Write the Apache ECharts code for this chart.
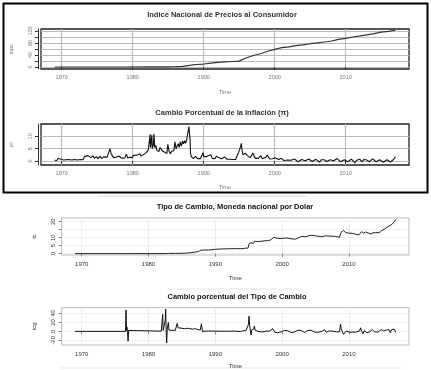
<!DOCTYPE html>
<html>
<head>
<meta charset="utf-8">
<script src="https://cdn.jsdelivr.net/npm/echarts@6/dist/echarts.min.js"></script>
<style>
html, body { margin: 0; padding: 0; background: #fff; }
#main { width: 431px; height: 370px; }
</style>
</head>
<body>
<div id="main"></div>
<script>
// ticks
const decades = [1970, 1980, 1990, 2000, 2010];
const inpcTicks = [0, 20, 40, 60, 80, 100, 120];
const inpcLabels = [0, 40, 80, 120];
const piTicks = [0, 5, 10];
const tcTicks = [0, 5, 10, 15, 20];
const tcLabels = [0, 5, 10, 20];
const tcgTicks = [-20, 0, 20, 40];

// INPC (indice)
const inpc = [[1969.0,0.015],[1973.0,0.02],[1976.0,0.03],[1979.0,0.055],[1982.0,0.11],[1983.0,0.22],[1984.0,0.39],
  [1985.0,0.63],[1986.0,1.02],[1987.0,2.1],[1988.0,5.45],[1988.5,7.4],[1989.0,8.3],[1990.0,9.9],[1991.0,12.8],
  [1992.0,15.2],[1993.0,17.0],[1994.0,18.4],[1995.0,19.7],[1995.5,25.5],[1996.0,30.0],[1997.0,38.3],[1998.0,44.3],
  [1999.0,52.5],[2000.0,59.0],[2001.0,64.3],[2002.0,67.1],[2003.0,71.0],[2004.0,73.8],[2005.0,77.6],[2006.0,80.2],
  [2007.0,83.4],[2008.0,86.6],[2009.0,92.2],[2010.0,95.5],[2011.0,100.0],[2012.0,103.6],[2013.0,107.3],
  [2014.0,111.5],[2015.0,116.1],[2016.0,118.5],[2017.0,122.5]];

// inflacion mensual (%)
const pi = [[1969.0,0.3],[1969.3,0.2],[1969.5,1.1],[1969.6,0.3],[1970.0,0.6],[1970.3,0.4],[1970.6,0.5],[1971.0,0.6],
  [1971.4,0.4],[1971.8,0.6],[1972.2,0.4],[1972.6,0.6],[1973.0,0.5],[1973.2,1.8],[1973.4,1.0],[1973.7,2.2],[1973.9,2.8],
  [1974.1,1.4],[1974.4,2.1],[1974.6,1.1],[1974.9,1.8],[1975.1,0.9],[1975.4,2.0],[1975.6,1.0],[1975.9,1.7],[1976.1,0.9],
  [1976.4,1.6],[1976.6,1.0],[1976.8,5.0],[1976.95,3.0],[1977.1,2.2],[1977.3,1.4],[1977.5,1.3],[1977.7,1.6],[1977.9,1.2],
  [1978.1,2.0],[1978.4,1.2],[1978.6,1.4],[1978.9,1.3],[1979.1,2.8],[1979.3,1.2],[1979.6,1.5],[1979.9,1.4],[1980.1,2.3],
  [1980.3,1.9],[1980.6,2.4],[1980.8,1.7],[1981.0,2.9],[1981.2,2.0],[1981.5,2.6],[1981.7,2.2],[1981.9,3.4],[1982.1,3.0],
  [1982.2,4.5],[1982.35,5.0],[1982.45,10.8],[1982.5,5.5],[1982.6,6.0],[1982.7,10.5],[1982.75,5.0],[1982.9,6.5],
  [1983.0,10.9],[1983.1,5.5],[1983.25,6.4],[1983.4,4.3],[1983.55,5.0],[1983.7,3.9],[1983.85,5.5],[1984.0,6.2],
  [1984.15,4.2],[1984.3,4.5],[1984.5,3.6],[1984.65,3.9],[1984.8,3.0],[1984.95,6.8],[1985.1,4.2],[1985.3,3.0],
  [1985.5,4.0],[1985.65,3.2],[1985.8,4.2],[1985.95,7.8],[1986.1,5.0],[1986.25,5.5],[1986.4,7.0],[1986.55,5.5],
  [1986.7,7.8],[1986.85,6.0],[1987.0,8.0],[1987.15,7.0],[1987.3,8.2],[1987.45,7.2],[1987.6,8.6],[1987.75,7.8],
  [1987.88,8.3],[1987.92,14.0],[1988.0,14.3],[1988.08,8.3],[1988.15,3.1],[1988.25,1.8],[1988.4,1.2],[1988.55,1.0],
  [1988.7,0.6],[1988.85,1.9],[1989.0,1.4],[1989.15,1.0],[1989.35,1.3],[1989.55,1.0],[1989.75,1.5],[1989.9,3.4],
  [1990.0,1.8],[1990.2,1.6],[1990.4,1.8],[1990.55,1.3],[1990.7,2.2],[1990.85,1.8],[1991.0,2.6],[1991.2,1.1],
  [1991.4,1.2],[1991.6,1.0],[1991.8,2.0],[1991.95,1.6],[1992.1,1.4],[1992.3,1.0],[1992.5,0.9],[1992.7,0.9],
  [1992.95,1.6],[1993.1,0.9],[1993.3,0.7],[1993.5,0.6],[1993.7,0.7],[1993.9,0.8],[1994.1,0.6],[1994.3,0.5],
  [1994.5,0.6],[1994.7,0.7],[1994.95,3.8],[1995.1,4.2],[1995.2,5.9],[1995.3,7.2],[1995.4,4.2],[1995.55,2.5],
  [1995.7,2.0],[1995.85,3.2],[1996.0,3.6],[1996.15,2.2],[1996.35,1.6],[1996.55,1.4],[1996.75,1.2],[1996.95,3.2],
  [1997.1,2.0],[1997.3,1.1],[1997.5,0.9],[1997.7,1.1],[1997.95,1.4],[1998.05,2.2],[1998.25,0.9],[1998.5,1.0],
  [1998.7,1.4],[1998.95,2.4],[1999.05,2.5],[1999.3,0.8],[1999.5,0.7],[1999.7,0.9],[1999.95,1.0],[2000.05,1.3],
  [2000.3,0.5],[2000.55,0.6],[2000.8,0.7],[2000.95,1.1],[2001.1,0.6],[2001.3,0.2],[2001.55,0.6],[2001.8,0.4],
  [2002.0,0.9],[2002.3,0.3],[2002.55,0.4],[2002.8,0.8],[2003.0,0.4],[2003.3,-0.3],[2003.55,0.3],[2003.8,0.6],
  [2004.0,0.6],[2004.3,0.1],[2004.55,0.6],[2004.8,0.8],[2005.0,0.3],[2005.3,-0.2],[2005.55,0.4],[2005.8,0.7],
  [2006.0,0.6],[2006.3,-0.4],[2006.55,0.5],[2006.8,0.6],[2007.0,0.5],[2007.3,-0.2],[2007.55,0.4],[2007.8,0.5],
  [2008.0,0.5],[2008.3,0.1],[2008.55,0.6],[2008.8,1.0],[2009.0,0.2],[2009.3,-0.3],[2009.55,0.3],[2009.8,0.5],
  [2010.0,1.1],[2010.3,-0.3],[2010.55,0.4],[2010.8,0.8],[2011.0,0.5],[2011.3,-0.7],[2011.55,0.3],[2011.8,1.1],
  [2012.0,0.7],[2012.3,-0.3],[2012.55,0.6],[2012.8,0.6],[2013.0,0.4],[2013.3,-0.3],[2013.55,0.3],[2013.8,0.9],
  [2014.0,0.9],[2014.3,-0.3],[2014.55,0.4],[2014.8,0.5],[2015.0,-0.1],[2015.3,-0.5],[2015.55,0.2],[2015.8,0.5],
  [2016.0,0.4],[2016.3,-0.4],[2016.55,0.3],[2016.8,0.8],[2016.92,0.5],[2017.0,1.7]];

// tipo de cambio
const tc = [[1969.0,0.0125],[1976.6,0.0125],[1976.75,0.02],[1982.0,0.026],[1982.2,0.045],[1982.7,0.07],[1983.0,0.15],
  [1984.0,0.17],[1985.0,0.22],[1985.5,0.33],[1986.0,0.45],[1986.5,0.65],[1987.0,0.95],[1987.5,1.4],[1987.9,2.2],
  [1988.5,2.28],[1989.0,2.3],[1989.5,2.5],[1990.0,2.7],[1991.0,2.95],[1992.0,3.07],[1993.0,3.1],[1994.0,3.1],
  [1994.5,3.4],[1994.9,3.45],[1995.0,5.5],[1995.2,6.8],[1995.4,6.2],[1995.7,6.4],[1995.85,7.7],[1996.5,7.55],
  [1997.0,7.85],[1997.8,8.2],[1998.3,8.5],[1998.7,10.2],[1999.0,9.9],[1999.5,9.5],[2000.0,9.5],[2000.5,9.8],
  [2001.0,9.6],[2001.5,9.2],[2002.0,9.1],[2002.5,10.0],[2003.0,10.9],[2003.5,10.5],[2004.0,11.2],[2004.5,11.5],
  [2005.0,11.2],[2005.5,10.8],[2006.0,10.6],[2006.5,11.2],[2007.0,11.0],[2007.5,10.9],[2008.0,10.8],[2008.6,10.2],
  [2008.8,13.2],[2009.2,14.5],[2009.5,13.2],[2010.0,12.8],[2010.5,12.7],[2011.0,12.2],[2011.5,11.7],[2011.9,13.8],
  [2012.2,12.8],[2012.5,13.5],[2013.0,12.8],[2013.3,12.2],[2013.6,13.1],[2014.0,13.1],[2014.6,13.2],[2014.95,14.5],
  [2015.3,15.3],[2015.8,16.8],[2016.2,17.6],[2016.5,18.5],[2016.9,20.6],[2017.0,21.4]];

// cambio porcentual del tipo de cambio
const tcg = [[1969.0,0],[1976.55,0],[1976.63,48],[1976.7,2],[1976.78,10],[1976.86,-3],[1976.94,-22],[1977.02,2],
  [1977.2,0.5],[1981.9,0.5],[1982.05,1],[1982.12,38],[1982.2,2],[1982.4,3],[1982.5,25],[1982.57,50],[1982.65,-5],
  [1982.72,-26],[1982.8,5],[1982.9,8],[1982.97,20],[1983.05,3],[1983.3,2],[1984.0,2],[1984.2,2.5],
  [1984.3,18],[1984.42,8],[1984.6,5],[1985.0,7],[1985.4,6],[1985.8,7],[1986.2,6],[1986.6,5],[1987.0,6],
  [1987.4,4],[1987.75,3],[1987.85,5],[1987.92,17],[1988.0,8],[1988.08,0],[1988.3,0.5],[1989.0,0.8],[1990.0,0.6],[1991.0,0.4],
  [1992.0,0.3],[1993.0,0.5],[1993.8,-0.5],[1994.1,1],[1994.2,4],[1994.3,1],[1994.6,2],[1994.85,1],[1994.95,15],
  [1995.05,34],[1995.15,12],[1995.25,8],[1995.35,-8],[1995.45,3],[1995.6,2],[1995.75,5],[1995.85,12],[1995.95,3],
  [1996.1,-1],[1996.3,0.5],[1996.5,1],[1996.8,-1],[1997.0,0.5],[1997.3,-0.8],[1997.6,0.6],[1997.85,3],[1998.1,0.5],
  [1998.35,1],[1998.6,6],[1998.75,3],[1998.9,-2],[1999.1,-1],[1999.35,-3],[1999.6,1],[1999.85,-1],[2000.1,-1],
  [2000.35,2],[2000.6,-2],[2000.85,1.5],[2001.1,-1],[2001.35,-2.5],[2001.6,1],[2001.85,-1.5],[2002.1,-1],
  [2002.35,2.5],[2002.6,1],[2002.85,2],[2003.1,2.5],[2003.35,-2.5],[2003.6,1],[2003.85,2],[2004.1,-1],[2004.35,2.5],
  [2004.6,-1],[2004.85,-1.5],[2005.1,0.5],[2005.35,-2],[2005.6,-1.5],[2005.85,-0.5],[2006.1,-1],[2006.35,3.5],
  [2006.6,-2],[2006.85,-1],[2007.1,1],[2007.35,-1],[2007.6,0.5],[2007.85,0],[2008.1,-1],[2008.35,-1.5],[2008.6,-1],
  [2008.75,16],[2008.85,6],[2009.0,3],[2009.2,-7],[2009.4,-3],[2009.6,1],[2009.85,-1.5],[2010.1,-2],[2010.35,2],
  [2010.6,-1.5],[2010.85,-1.5],[2011.1,-1.5],[2011.35,-2],[2011.6,1],[2011.75,8],[2011.9,1],[2012.1,-5],[2012.35,2],
  [2012.5,4],[2012.65,-3],[2012.85,-1],[2013.1,-1],[2013.35,-3],[2013.5,4],[2013.65,2],[2013.85,-1],[2014.1,1.5],
  [2014.35,-1.5],[2014.6,0.5],[2014.85,4],[2015.0,3],[2015.2,1],[2015.4,2],[2015.6,3],[2015.8,1],[2016.0,4],
  [2016.2,-3],[2016.4,4],[2016.6,1],[2016.8,5],[2016.9,3],[2017.0,-2]];

const FONT = 'Liberation Sans';
const fmt = v => String(v);

// eje x comun
function xAxisFor(gi, min, max, old, nameGap) {
    return {
        type: 'value', gridIndex: gi, min: min, max: max,
        name: 'Time', nameLocation: 'middle', nameGap: nameGap,
        nameTextStyle: { fontFamily: FONT, fontSize: old ? 5.5 : 6, color: old ? '#777' : '#333' },
        axisLine: { show: false },
        axisTick: { show: true, customValues: decades, length: 3, lineStyle: { color: old ? '#333' : '#888', width: 1 } },
        axisLabel: { customValues: decades, formatter: fmt, fontFamily: FONT, fontSize: old ? 5.5 : 6,
            color: old ? '#777' : '#333', margin: old ? 5 : 6 },
        splitLine: { show: true, lineStyle: { color: old ? '#bbb' : '#ececec', width: old ? 1.2 : 0.8 } }
    };
}

function yAxisFor(gi, min, max, name, ticks, labels, old) {
    return {
        type: 'value', gridIndex: gi, min: min, max: max,
        name: name, nameLocation: 'middle', nameGap: 24, nameRotate: 90,
        nameTextStyle: { fontFamily: FONT, fontSize: old ? 5.5 : 6, color: old ? '#777' : '#333' },
        offset: old ? 3 : 0,
        axisLine: { show: old, lineStyle: { color: '#333', width: 1 } },
        axisTick: { show: true, customValues: ticks, length: 3, lineStyle: { color: old ? '#333' : '#888', width: 1 } },
        axisLabel: { customValues: labels, formatter: fmt, rotate: 90, fontFamily: FONT, fontSize: old ? 5.5 : 6,
            color: old ? '#777' : '#333', margin: 5 },
        splitLine: { show: true, lineStyle: { color: old ? '#bbb' : '#ececec', width: old ? 1.2 : 0.8 } }
    };
}

function titleText(x, y, text, color) {
    return {
        type: 'text', x: x, y: y, z: 10,
        style: { text: text, fill: color, font: 'bold 7.5px "Liberation Sans"', textAlign: 'center', textVerticalAlign: 'middle' }
    };
}

function lineSeries(i, data, color, width) {
    return {
        type: 'line', xAxisIndex: i, yAxisIndex: i, data: data, showSymbol: false, silent: true,
        lineStyle: { color: color, width: width }, animation: false
    };
}

const chart = echarts.init(document.getElementById('main'));
chart.setOption({
    backgroundColor: '#fff',
    animation: false,
    grid: [
        { left: 35, top: 29, width: 374, height: 40, show: true, borderColor: '#222', borderWidth: 1.3 },
        { left: 35, top: 124, width: 374, height: 41, show: true, borderColor: '#222', borderWidth: 1.3 },
        { left: 61.7, top: 218, width: 347.3, height: 37, show: true, borderColor: '#aaa', borderWidth: 0.8 },
        { left: 61.7, top: 307.7, width: 347.3, height: 39, show: true, borderColor: '#aaa', borderWidth: 0.8 }
    ],
    xAxis: [
        xAxisFor(0, 1967.08, 2018.92, true, 20),
        xAxisFor(1, 1967.08, 2018.92, true, 19),
        xAxisFor(2, 1967.0, 2019.0, false, 20),
        xAxisFor(3, 1967.0, 2019.0, false, 18)
    ],
    yAxis: [
        yAxisFor(0, -6.67, 126.67, 'inpc', inpcTicks, inpcLabels, true),
        yAxisFor(1, -1.6, 15.0, 'pi', piTicks, piTicks, true),
        yAxisFor(2, -0.85, 22.3, 'tc', tcTicks, tcLabels, false),
        yAxisFor(3, -30.5, 53, 'tcg', tcgTicks, tcgTicks, false)
    ],
    series: [
        lineSeries(0, inpc, '#333', 1.2),
        lineSeries(1, pi, '#111', 1.1),
        lineSeries(2, tc, '#222', 1),
        lineSeries(3, tcg, '#111', 1)
    ],
    graphic: [
        { type: 'rect', shape: { x: 3.5, y: 3.5, width: 424, height: 189 }, style: { fill: 'none', stroke: '#000', lineWidth: 2 } },
        titleText(222, 15, 'Indice Nacional de Precios al Consumidor', '#333'),
        titleText(222, 113, 'Cambio Porcentual de la Inflación (π)', '#333'),
        titleText(235, 207, 'Tipo de Cambio, Moneda nacional por Dolar', '#111'),
        titleText(237, 297, 'Cambio porcentual del Tipo de Cambio', '#111'),
        { type: 'line', shape: { x1: 97, y1: 196, x2: 307, y2: 196 }, style: { stroke: '#eeeeee', lineWidth: 2 } },
        { type: 'line', shape: { x1: 167, y1: 289, x2: 300, y2: 289 }, style: { stroke: '#f2f2f2', lineWidth: 2 } },
        { type: 'line', shape: { x1: 60, y1: 368, x2: 402, y2: 368 }, style: { stroke: '#eeeeee', lineWidth: 1.5 } }
    ]
});
</script>
</body>
</html>
